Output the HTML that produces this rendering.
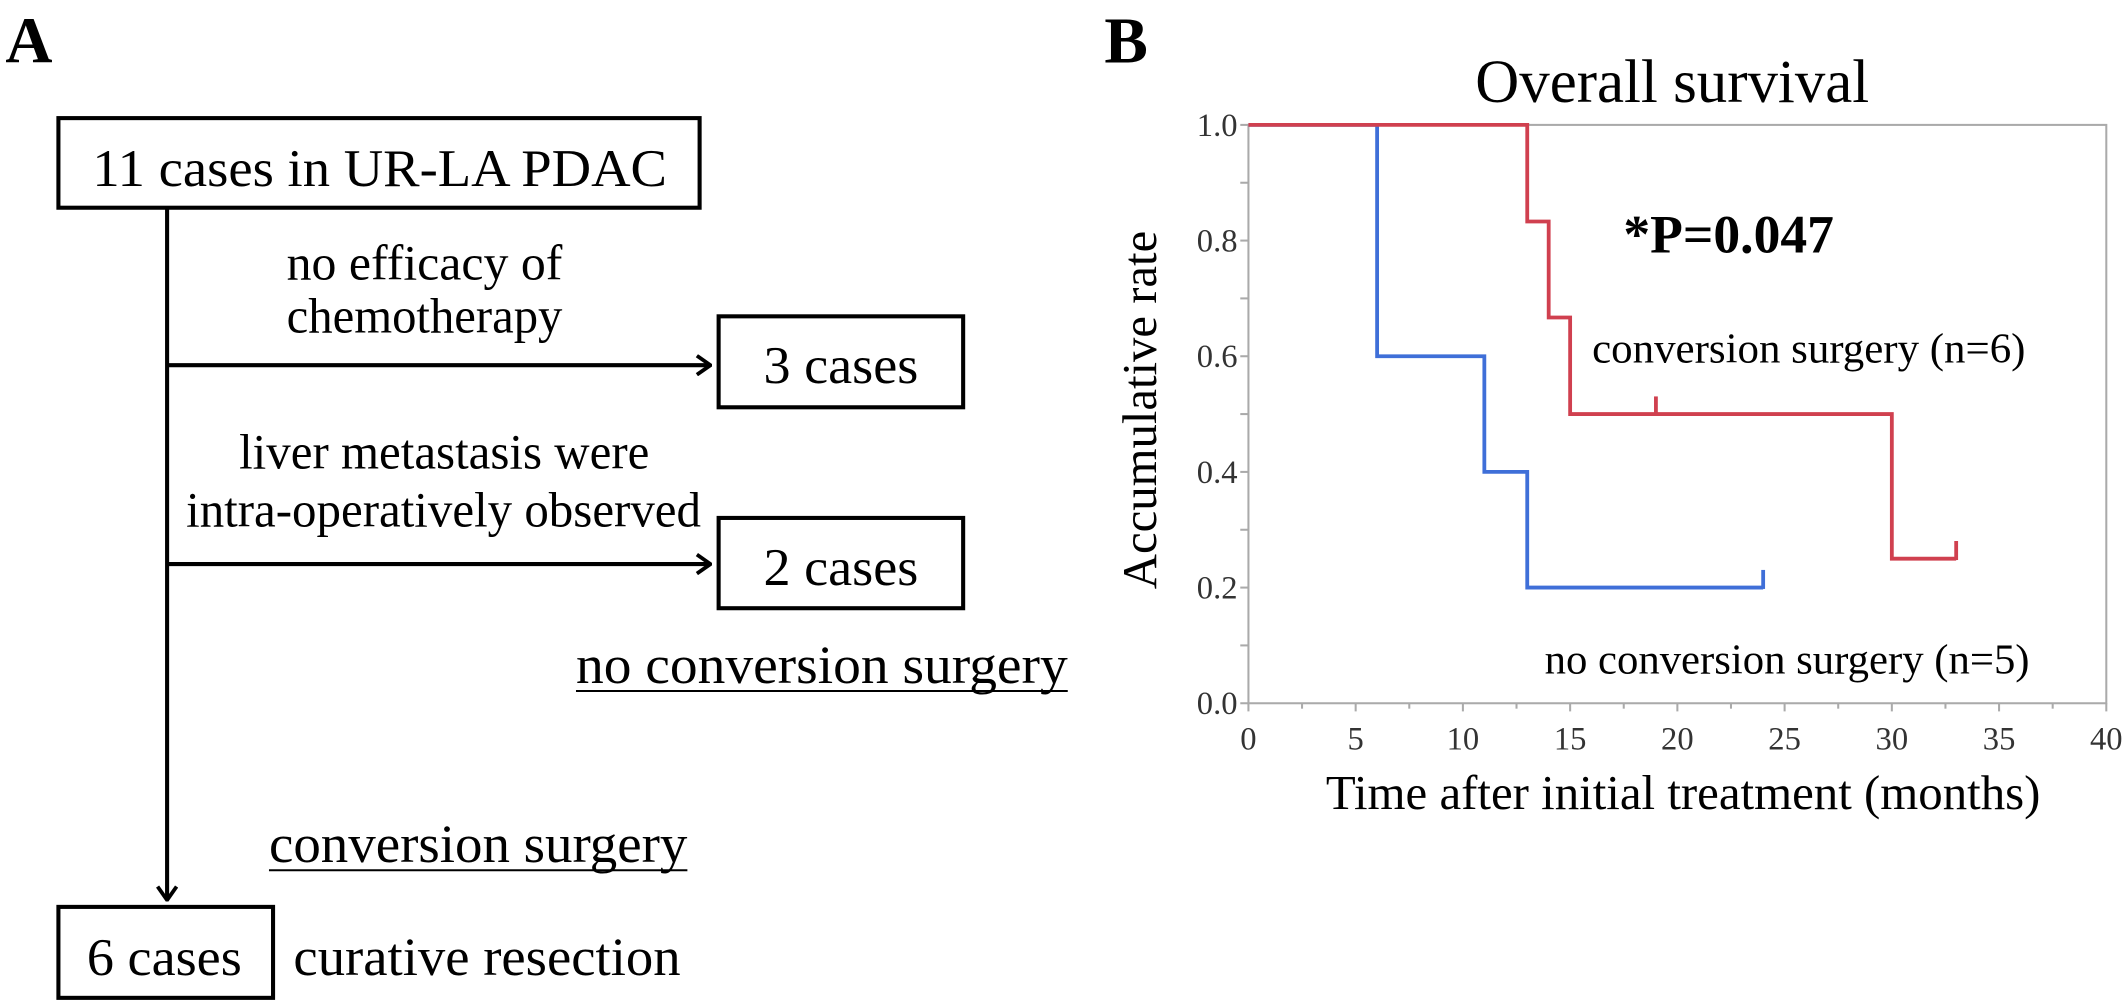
<!DOCTYPE html>
<html><head><meta charset="utf-8">
<style>
html,body{margin:0;padding:0;background:#fff;}
svg{display:block;font-family:"Liberation Serif",serif;}
</style></head>
<body>
<svg id="fig" width="2126" height="1006" viewBox="0 0 1565 741" preserveAspectRatio="none" xmlns="http://www.w3.org/2000/svg">
<defs>
<marker id="ah" markerWidth="12" markerHeight="16" refX="11" refY="8" orient="auto" markerUnits="userSpaceOnUse">
<path d="M1,1 L11,8 L1,15" fill="none" stroke="#000" stroke-width="2.8"/>
</marker>
</defs>
<g>
<text x="4" y="46" font-size="48" font-weight="bold">A</text>
<rect x="43" y="87" width="472" height="66" fill="none" stroke="#000" stroke-width="3"/>
<text x="68" y="137" font-size="39" textLength="423" lengthAdjust="spacingAndGlyphs">11 cases in UR-LA PDAC</text>
<line x1="123" y1="153" x2="123" y2="663" stroke="#000" stroke-width="3" marker-end="url(#ah)"/>
<text x="211" y="206" font-size="37" textLength="203" lengthAdjust="spacingAndGlyphs">no efficacy of</text>
<text x="211" y="245" font-size="37" textLength="203" lengthAdjust="spacingAndGlyphs">chemotherapy</text>
<line x1="123" y1="269" x2="523" y2="269" stroke="#000" stroke-width="3" marker-end="url(#ah)"/>
<rect x="529" y="233" width="180" height="67" fill="none" stroke="#000" stroke-width="3"/>
<text x="562" y="282" font-size="39" textLength="114" lengthAdjust="spacingAndGlyphs">3 cases</text>
<text x="176" y="345" font-size="37" textLength="302" lengthAdjust="spacingAndGlyphs">liver metastasis were</text>
<text x="137" y="388" font-size="37" textLength="379" lengthAdjust="spacingAndGlyphs">intra-operatively observed</text>
<line x1="123" y1="415.5" x2="523" y2="415.5" stroke="#000" stroke-width="3" marker-end="url(#ah)"/>
<rect x="529" y="381.5" width="180" height="66.5" fill="none" stroke="#000" stroke-width="3"/>
<text x="562" y="431" font-size="39" textLength="114" lengthAdjust="spacingAndGlyphs">2 cases</text>
<text x="424" y="503" font-size="40" textLength="362" lengthAdjust="spacingAndGlyphs">no conversion surgery</text>
<line x1="424" y1="509" x2="786" y2="509" stroke="#000" stroke-width="1.5"/>
<text x="198" y="635" font-size="40" textLength="308" lengthAdjust="spacingAndGlyphs">conversion surgery</text>
<line x1="198" y1="641" x2="506" y2="641" stroke="#000" stroke-width="1.5"/>
<rect x="43" y="668" width="158" height="67" fill="none" stroke="#000" stroke-width="3"/>
<text x="64" y="718" font-size="39" textLength="114" lengthAdjust="spacingAndGlyphs">6 cases</text>
<text x="216" y="718" font-size="40" textLength="285" lengthAdjust="spacingAndGlyphs">curative resection</text>
</g>
<g id="chart"></g>
</svg>
<script>
const xTicks = [0,5,10,15,20,25,30,35,40];
const yTicks = [0.0,0.2,0.4,0.6,0.8,1.0];
const convTimes = [0,13,14,15,30,33];
const convSurv = [1.0,0.833,0.667,0.5,0.25,0.25];
const convCensor = [19,33];
const noConvTimes = [0,6,11,13,24];
const noConvSurv = [1.0,0.6,0.4,0.2,0.2];
const noConvCensor = [24];

const NS="http://www.w3.org/2000/svg";
const g=document.getElementById('chart');
const X0=919,X1=1550.5,Y0=518,Y1=92;
const sx=v=>X0+(v-0)/(40-0)*(X1-X0);
const sy=v=>Y0-(v-0)/(1-0)*(Y0-Y1);
function mk(tag,attrs,parent){const e=document.createElementNS(NS,tag);for(const k in attrs)e.setAttribute(k,attrs[k]);(parent||g).appendChild(e);return e;}

let t=mk('text',{x:813,y:46,'font-size':48,'font-weight':'bold'});t.textContent='B';


t=mk('text',{x:1086,y:75,'font-size':45,textLength:290,lengthAdjust:'spacingAndGlyphs'});t.textContent='Overall survival';


let fr=mk('rect',{x:X0,y:Y1,width:X1-X0,height:Y0-Y1,fill:'none',stroke:'#aaa','stroke-width':1.5});


for(let v=0;v<=1.0001;v+=0.1){
  const tk=mk('line',{x1:X0-6,x2:X0,y1:sy(v),y2:sy(v),stroke:'#aaa','stroke-width':1.5});
  
  
}
yTicks.forEach(v=>{
  const l=mk('text',{x:X0-8,y:sy(v)+8,'font-size':24,'text-anchor':'end',fill:'#333'});l.textContent=v.toFixed(1);
  
  
});
for(let v=0;v<=40;v+=2.5){
  const tk=mk('line',{x1:sx(v),x2:sx(v),y1:Y0,y2:Y0+(v%5===0?6:4),stroke:'#aaa','stroke-width':1.5});
  
  
}
xTicks.forEach(v=>{
  const l=mk('text',{x:sx(v),y:552,'font-size':24,'text-anchor':'middle',fill:'#333'});l.textContent=v;
  
  
});
t=mk('text',{x:976,y:596,'font-size':36,textLength:526,lengthAdjust:'spacingAndGlyphs'});t.textContent='Time after initial treatment (months)';


t=mk('text',{x:0,y:0,'font-size':36,'text-anchor':'middle',textLength:264,lengthAdjust:'spacingAndGlyphs',transform:'translate(851,302) rotate(-90)'});t.textContent='Accumulative rate';



function stepPath(times,surv){
  let d=`M${sx(times[0])},${sy(surv[0])}`;
  for(let i=1;i<times.length;i++){d+=` H${sx(times[i])} V${sy(surv[i])}`;}
  return d;
}
function survAt(times,surv,x){let s=surv[0];for(let i=0;i<times.length;i++){if(times[i]<=x)s=surv[i];}return s;}
let p=mk('path',{d:stepPath(noConvTimes,noConvSurv),fill:'none',stroke:'#3f6fd8','stroke-width':2.8});


noConvCensor.forEach(c=>{
  const y=sy(survAt(noConvTimes,noConvSurv,c));
  const m=mk('line',{x1:sx(c),x2:sx(c),y1:y+1,y2:y-13,stroke:'#3f6fd8','stroke-width':2.8});
  
  
});
p=mk('path',{d:stepPath(convTimes,convSurv),fill:'none',stroke:'#d0404f','stroke-width':2.8});


convCensor.forEach(c=>{
  const y=sy(survAt(convTimes,convSurv,c));
  const m=mk('line',{x1:sx(c),x2:sx(c),y1:y+1,y2:y-13,stroke:'#d0404f','stroke-width':2.8});
  
  
});
t=mk('text',{x:1195,y:186,'font-size':40,'font-weight':'bold',textLength:155,lengthAdjust:'spacingAndGlyphs'});t.textContent='*P=0.047';


t=mk('text',{x:1172,y:267,'font-size':31,textLength:319,lengthAdjust:'spacingAndGlyphs'});t.textContent='conversion surgery (n=6)';


t=mk('text',{x:1137,y:496,'font-size':31,textLength:357,lengthAdjust:'spacingAndGlyphs'});t.textContent='no conversion surgery (n=5)';


</script>
</body></html>
